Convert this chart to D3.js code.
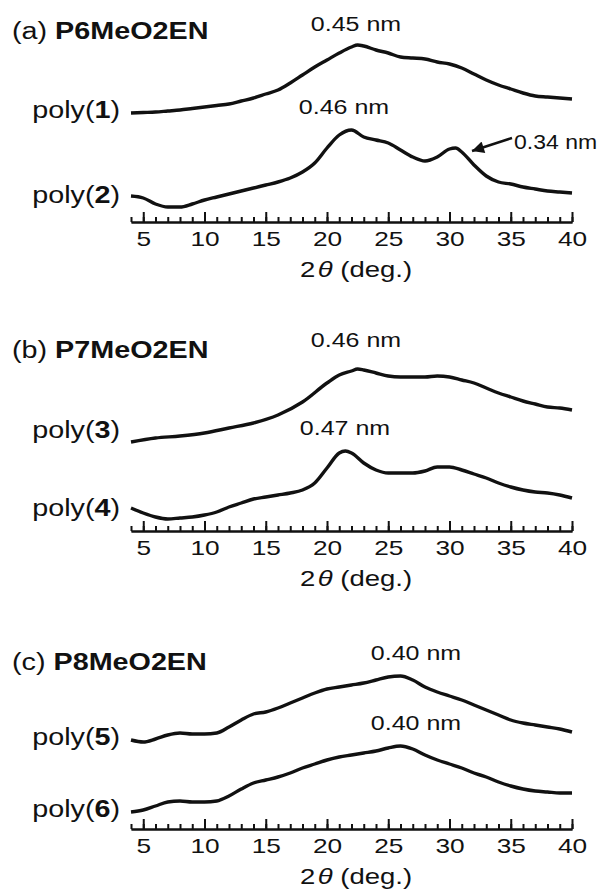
<!DOCTYPE html>
<html>
<head>
<meta charset="utf-8">
<script src="https://cdn.jsdelivr.net/npm/d3@7"></script>
<style>
  body { margin: 0; background: #fff; }
  svg { display: block; }
  text { font-family: "Liberation Sans", Arial, Helvetica, sans-serif; fill: #111; }
</style>
</head>
<body>
<div id="chart"></div>
<script>

/* XRD PATTERNS, values (a.u. above each baseline) */

var poly1 = [[4,109],[5,109.5],[6,110],[7,111],[8,112],[9,113.5],[10,115],[11,116.5],[12,118],[13,121],[14,124],[15,128],[16,132],[17,139],[18,147],[19,155],[20,162],[21,169],[22,175],[22.5,177],[23,176],[24,172],[25,169],[26,165],[27,164],[28,163],[29,160],[30,158],[31,154],[32,148],[33,142],[34,137],[35,133],[36,129],[37,126],[38,125],[39,124],[40,123]];
var poly2 = [[4,26],[5,24],[6,18],[7,15],[8,15],[9,18],[10,22],[11,25],[12,28],[13,31],[14,34],[15,37],[16,40],[17,44],[18,50],[19,59],[20,74],[21,87],[22,92],[23,85],[24,82],[25,79],[26,72],[27,65],[28,61],[29,65],[30,73],[30.5,74],[31,70],[32,57],[33,46],[34,40],[35,38],[36,35],[37,33],[38,31],[39,30],[40,29]];
var poly3 = [[4,89],[6,93],[8,95],[10,98],[12,103],[14,108],[16,116],[18,129],[20,148],[21,156],[22,160],[22.5,162],[23,161],[24,158],[25,155],[26,154],[27,154],[28,154],[29,155],[30,154],[31,151],[32,148],[33,143],[34,138],[35,134],[36,130],[37,127],[38,124],[39,123],[40,121]];
var poly4 = [[4,23],[5,18],[6,14],[7,12],[8,13],[9,14],[10,16],[11,19],[12,24],[13,28],[14,32],[15,34],[16,36],[17,38],[18,41],[19,48],[20,63],[21,78],[21.5,80],[22,78],[23,68],[24,61],[25,58],[26,58],[27,58],[28,60],[29,64],[30,64],[31,61],[32,57],[33,53],[34,48],[35,44],[36,41],[37,39],[38,38],[39,36],[40,33]];
var poly5 = [[4,89],[5,87],[6,90],[7,94],[8,96],[9,95],[10,95],[11,96],[12,102],[13,109],[14,115],[15,117],[16,121],[17,126],[18,131],[19,136],[20,140],[21,142],[22,144],[23,146],[24,149],[25,152],[26,153],[27,149],[28,142],[29,137],[30,133],[31,129],[32,124],[33,119],[34,114],[35,109],[36,106],[37,104],[38,102],[39,100],[40,97]];
var poly6 = [[4,17],[5,19],[6,23],[7,27],[8,28],[9,27],[10,27],[11,28],[12,33],[13,40],[14,46],[15,49],[16,52],[17,56],[18,61],[19,65],[20,69],[21,72],[22,74],[23,76],[24,78],[25,81],[26,83],[27,80],[28,74],[29,69],[30,65],[31,61],[32,56],[33,52],[34,47],[35,43],[36,40],[37,38],[38,37],[39,36],[40,36]];

var polymers = ["P6MeO2EN", "P7MeO2EN", "P8MeO2EN"];
var panelLetters = ["(a)", "(b)", "(c)"];
var seriesNames = [["1", "2"], ["3", "4"], ["5", "6"]];
var seriesData = [[poly1, poly2], [poly3, poly4], [poly5, poly6]];
var dSpacings = [["0.45 nm", "0.46 nm"], ["0.46 nm", "0.47 nm"], ["0.40 nm", "0.40 nm"]];
var majorTicks = [5, 10, 15, 20, 25, 30, 35, 40];
var minorTicks = d3.range(4, 41);

/* LAYOUT */

var w = 601;
var h = 890;
var stretch = 1.25;   // the original figure is wider than its fonts

var layout = [
  {axisY: 222, titleY: 39,  labelY: [118, 203], noteX: [356, 344], noteY: [31, 114]},
  {axisY: 531, titleY: 358, labelY: [438, 516], noteX: [356, 345], noteY: [347, 435]},
  {axisY: 829, titleY: 670, labelY: [745, 817], noteX: [416, 416], noteY: [660, 730]}
];

var x = d3.scaleLinear().domain([4, 40]).range([131, 572]);

var svg = d3.select("#chart").append("svg")
            .attr("width", w)
            .attr("height", h);

svg.append("rect").attr("width", w).attr("height", h).attr("fill", "#fff");

svg.append("defs").append("marker")
   .attr("id", "head")
   .attr("viewBox", "0 0 10 10")
   .attr("refX", 10).attr("refY", 5)
   .attr("markerWidth", 15).attr("markerHeight", 12)
   .attr("markerUnits", "userSpaceOnUse")
   .attr("orient", "auto")
   .append("path")
   .attr("d", "M0,0 L10,5 L0,10 Z")
   .attr("fill", "#111");

function addText(g, tx, ty, size, anchor, sx){
  return g.append("text")
          .attr("transform", "translate(" + tx + "," + ty + ") scale(" + (sx || stretch) + ",1)")
          .attr("text-anchor", anchor || "start")
          .style("font-size", size + "px");
}

function drawPanel(i){

  var L = layout[i];
  var g = svg.append("g");

  var y = d3.scaleLinear().domain([0, 200]).range([L.axisY, L.axisY - 200]);

  var line = d3.line()
               .x(function(d){ return x(d[0]); })
               .y(function(d){ return y(d[1]); })
               .curve(d3.curveMonotoneX);

  g.selectAll("path.trace")
   .data(seriesData[i])
   .enter().append("path")
   .attr("class", "trace")
   .attr("d", line)
   .attr("fill", "none")
   .attr("stroke", "#111")
   .attr("stroke-width", 3.4)
   .attr("stroke-linejoin", "round");

  // title
  var title = addText(g, 12, L.titleY, 23);
  title.append("tspan").text(panelLetters[i] + " ");
  title.append("tspan").style("font-weight", "bold").text(polymers[i]);

  // series labels
  seriesNames[i].forEach(function(n, k){
    var t = addText(g, 120, L.labelY[k], 23, "end");
    t.append("tspan").text("poly(");
    t.append("tspan").style("font-weight", "bold").text(n);
    t.append("tspan").text(")");
  });

  // d-spacing notes
  dSpacings[i].forEach(function(s, k){
    addText(g, L.noteX[k], L.noteY[k], 20, "middle").text(s);
  });

  // axis: minor and major ticks pointing up
  var minor = d3.axisBottom(x).tickValues(minorTicks).tickSize(-5).tickSizeOuter(0).tickFormat("");
  var major = d3.axisBottom(x).tickValues(majorTicks).tickSize(-10).tickSizeOuter(0).tickPadding(9);

  var ga = g.append("g").attr("transform", "translate(0," + L.axisY + ")");
  ga.append("g").call(minor);
  ga.append("g").call(major);

  ga.selectAll("path.domain").attr("stroke", "#111").attr("stroke-width", 2);
  ga.selectAll(".tick line").attr("stroke", "#111").attr("stroke-width", 2);
  ga.selectAll(".tick text")
    .attr("fill", "#111")
    .attr("transform", "scale(" + stretch + ",1)")
    .style("font-size", "21px")
    .style("font-family", "'Liberation Sans', Arial, sans-serif");

  var xl = addText(g, 356, L.axisY + 55, 22, "middle");
  xl.append("tspan").text("2");
  xl.append("tspan").attr("dx", 2).style("font-style", "italic").text("θ");
  xl.append("tspan").text(" (deg.)");
}

[0, 1, 2].forEach(drawPanel);

/* ARROW TO THE 0.34 nm PEAK */

svg.append("line")
   .attr("x1", 512).attr("y1", 138)
   .attr("x2", 472).attr("y2", 151)
   .attr("stroke", "#111")
   .attr("stroke-width", 2.5)
   .attr("marker-end", "url(#head)");

addText(svg, 514, 149, 20, "start", 1.15).text("0.34 nm");

</script>
</body>
</html>
